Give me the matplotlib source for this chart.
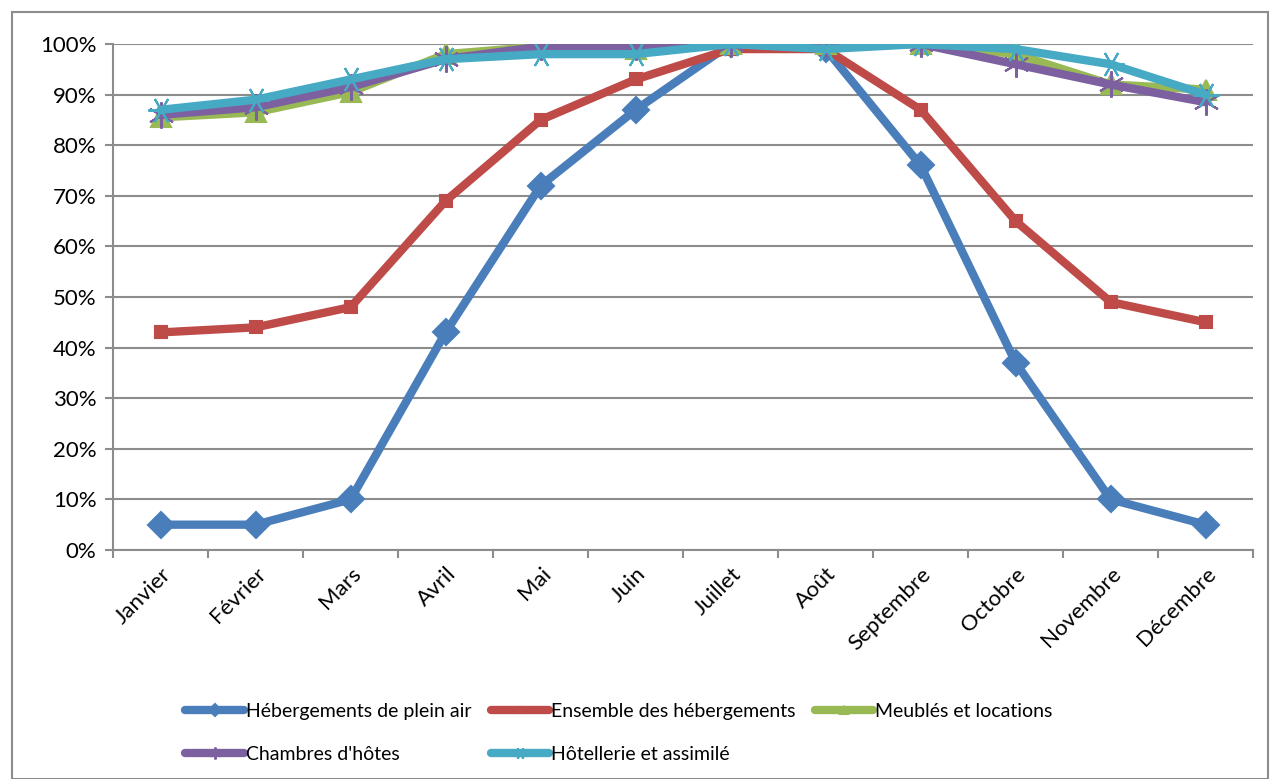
import matplotlib.pyplot as plt
from matplotlib.patches import Rectangle
from matplotlib.ticker import FuncFormatter, MultipleLocator

plt.rcParams['font.family'] = ['Lato', 'DejaVu Sans']

months = ['Janvier', 'Février', 'Mars', 'Avril', 'Mai', 'Juin',
          'Juillet', 'Août', 'Septembre', 'Octobre', 'Novembre', 'Décembre']

plein_air = [5, 5, 10, 43, 72, 87, 100, 99, 76, 37, 10, 5]
ensemble = [43, 44, 48, 69, 85, 93, 99, 99, 87, 65, 49, 45]
meubles = [85.5, 86.5, 90.5, 98, 99.5, 99, 100, 100, 100, 98, 92, 91]
chambres = [86, 87.5, 91.5, 97, 99.5, 99.5, 100, 100, 100, 96, 92, 88.5]
hotellerie = [87, 89, 93, 97, 98, 98, 100, 99, 100, 99, 96, 90]

series = [
    ('Hébergements de plein air', plein_air, '#4a7ebb', 'D', 13),
    ('Ensemble des hébergements', ensemble, '#be4b48', 's', 9),
    ('Meublés et locations', meubles, '#98b954', '^', 14),
    ('Chambres d\'hôtes', chambres, '#7d60a0', (6, 2, 0), 19),
    ('Hôtellerie et assimilé', hotellerie, '#46aac5', (6, 2, 90), 19),
]

fig = plt.figure(figsize=(12.71, 7.79), dpi=100)
ax = fig.add_axes([0.089, 0.294, 0.897, 0.6495])

x = range(len(months))
lines = []
for name, vals, col, mk, ms in series:
    ln, = ax.plot(x, vals, color=col, lw=6, marker=mk, markersize=ms,
                  markerfacecolor=col, markeredgecolor=col, markeredgewidth=1.5,
                  label=name, zorder=3, solid_capstyle='round')
    lines.append(ln)

ax.set_xlim(-0.5, 11.5)
ax.set_ylim(0, 100)
ax.yaxis.set_major_locator(MultipleLocator(10))
ax.yaxis.set_major_formatter(FuncFormatter(lambda v, p: '%d%%' % v))
ax.grid(axis='y', color='#8c8c8c', lw=1.5)
ax.set_axisbelow(True)

# ticks between categories, labels centred on categories
ax.set_xticks([i + 0.5 for i in range(-1, 12)], minor=False)
ax.set_xticklabels([])
ax.set_xticks(list(x), minor=True)
ax.set_xticklabels(months, minor=True, rotation=45, ha='right', rotation_mode='anchor', fontsize=16)
ax.tick_params(axis='x', which='minor', length=0, pad=10)
ax.tick_params(axis='x', which='major', length=6, color='#8c8c8c', width=1.5)
ax.tick_params(axis='y', length=6, color='#8c8c8c', width=1.5, labelsize=16, pad=6)

for s in ['top', 'right']:
    ax.spines[s].set_visible(False)
for s in ['left', 'bottom']:
    ax.spines[s].set_color('#8c8c8c')
    ax.spines[s].set_linewidth(1.5)

# legend: row-major layout like Excel
order = [0, 3, 1, 4, 2]
leg = fig.legend([lines[i] for i in order], [series[i][0] for i in order],
                 ncol=3, loc='center', bbox_to_anchor=(0.487, 0.059), frameon=False,
                 fontsize=14, handlelength=3.0, handletextpad=0.1,
                 columnspacing=1.0, labelspacing=1.35, markerscale=0.45)

fig.patches.append(Rectangle((0.0095, 0.0), 0.988, 0.985, transform=fig.transFigure,
                             fill=False, edgecolor='#8c8c8c', lw=1.5))

fig.savefig('out.png', dpi=100)
